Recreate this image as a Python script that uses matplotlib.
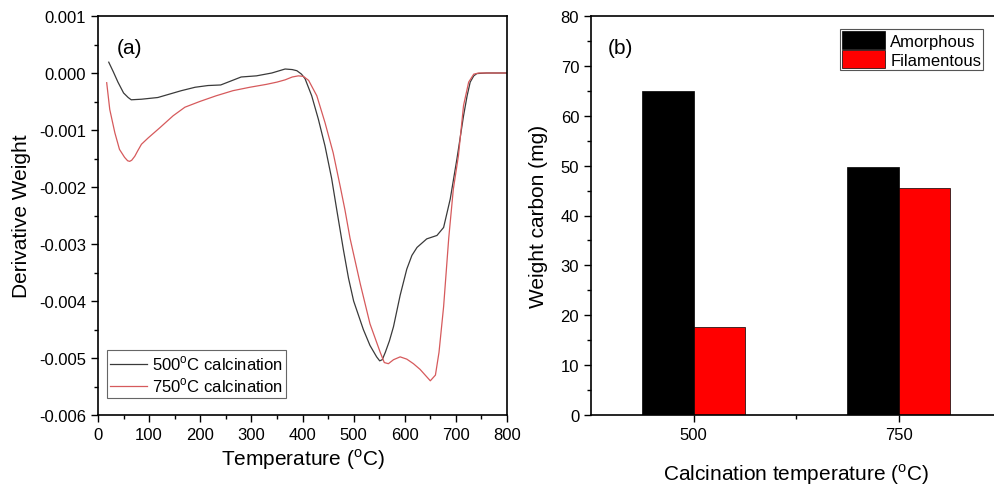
import matplotlib
matplotlib.use("Agg")
import matplotlib.pyplot as plt
from matplotlib.ticker import MultipleLocator, FuncFormatter

plt.rcParams['font.family'] = ['Liberation Sans', 'DejaVu Sans']
plt.rcParams['mathtext.fontset'] = 'custom'
plt.rcParams['mathtext.rm'] = 'Liberation Sans'

# ---- Panel (a) data: DTG curves ----
temp_500 = [21, 30, 39, 50, 59, 65, 85, 117, 140, 163, 190, 215, 240, 260, 280, 310, 340, 366, 380,
            389, 398, 405, 418, 431, 444, 457, 467, 480, 490, 500, 519, 532, 545, 551, 556, 562, 570,
            578, 591, 604, 614, 624, 643, 663, 676, 689, 702, 715, 722, 728, 735, 741, 760, 800]
dtg_500 = [0.00019, 0.00002, -0.00016, -0.00035, -0.00043, -0.00047, -0.00046, -0.00043, -0.00037,
           -0.00031, -0.00025, -0.00022, -0.00021, -0.00014, -0.00007, -0.00005, 0.00000, 0.00007,
           0.00006, 0.00004, -0.00002, -0.00010, -0.00040, -0.00081, -0.00128, -0.00185, -0.00240,
           -0.00310, -0.00360, -0.00400, -0.00450, -0.00478, -0.00498, -0.00505, -0.00503, -0.00490,
           -0.00470, -0.00445, -0.00390, -0.00344, -0.00320, -0.00306, -0.00291, -0.00285, -0.00271,
           -0.00221, -0.00151, -0.00075, -0.00040, -0.00016, -0.00005, -0.00001, 0.0, 0.0]

temp_750 = [17, 23, 33, 42, 52, 58, 62, 66, 72, 78, 85, 98, 121, 147, 170, 199, 231, 264, 297, 329,
            350, 366, 380, 392, 402, 412, 428, 444, 460, 474, 483, 493, 513, 532, 552, 560, 568, 578,
            591, 604, 617, 630, 640, 650, 660, 667, 676, 686, 695, 705, 715, 725, 735, 745, 800]
dtg_750 = [-0.00017, -0.00064, -0.00105, -0.00134, -0.00148, -0.00154, -0.00155, -0.00153, -0.00146,
           -0.00136, -0.00125, -0.00114, -0.00096, -0.00075, -0.00060, -0.00050, -0.00040, -0.00031,
           -0.00025, -0.00020, -0.00016, -0.00012, -0.00007, -0.00005, -0.00006, -0.00013, -0.00040,
           -0.00087, -0.00140, -0.00200, -0.00240, -0.00290, -0.00370, -0.00440, -0.00490, -0.00508,
           -0.00510, -0.00503, -0.00498, -0.00502, -0.00510, -0.00520, -0.00530, -0.00540, -0.00530,
           -0.00490, -0.00410, -0.00290, -0.00204, -0.00145, -0.00057, -0.00016, -0.00002, 0.0, 0.0]

# ---- Panel (b) data: bar chart ----
calc_temps = ['500', '750']
amorphous = [65.0, 49.8]
filamentous = [17.7, 45.6]

W, H = 994, 489
fig = plt.figure(figsize=(W / 100, H / 100), dpi=100)

def px_axes(l, t, r, b):
    return fig.add_axes([l / W, 1 - b / H, (r - l) / W, (b - t) / H])

# ---------- (a) ----------
ax1 = px_axes(98, 17, 507, 416)
ax1.plot(temp_500, dtg_500, color='#3a3a3a', lw=0.9, label='500$^{\\mathrm{o}}$C calcination')
ax1.plot(temp_750, dtg_750, color='#d65a5c', lw=0.9, label='750$^{\\mathrm{o}}$C calcination')
ax1.set_xlim(0, 800)
ax1.set_ylim(-0.006, 0.001)
ax1.xaxis.set_major_locator(MultipleLocator(100))
ax1.xaxis.set_minor_locator(MultipleLocator(50))
ax1.yaxis.set_major_locator(MultipleLocator(0.001))
ax1.yaxis.set_minor_locator(MultipleLocator(0.0005))
ax1.yaxis.set_major_formatter(FuncFormatter(lambda v, p: f"{v:.3f}" if abs(v) > 1e-12 else "0.000"))
ax1.set_xlabel('Temperature ($^{\\mathrm{o}}$C)', fontsize=15, labelpad=3)
ax1.set_ylabel('Derivative Weight', fontsize=15, labelpad=6)
ax1.text(0.045, 0.945, '(a)', transform=ax1.transAxes, fontsize=15, va='top', ha='left')
leg1 = ax1.legend(loc='lower left', bbox_to_anchor=(0.022, 0.043), fontsize=12, frameon=True,
                  fancybox=False, framealpha=1, edgecolor='#666666', handlelength=2.2,
                  borderpad=0.2, labelspacing=0.2, handletextpad=0.3, borderaxespad=0)
leg1.get_frame().set_linewidth(0.8)

# ---------- (b) ----------
ax2 = px_axes(591, 17, 1001, 416)
pos = [1, 2]
bw = 0.25
ax2.bar([p - bw / 2 for p in pos], amorphous, width=bw, color='black', edgecolor='black', lw=0.5, label='Amorphous')
ax2.bar([p + bw / 2 for p in pos], filamentous, width=bw, color='#ff0000', edgecolor='black', lw=0.5, label='Filamentous')
ax2.set_xlim(0.5, 2.5)
ax2.set_ylim(0, 80)
ax2.set_xticks(pos)
ax2.set_xticklabels(calc_temps)
ax2.set_xticks([1.5], minor=True)
ax2.yaxis.set_major_locator(MultipleLocator(10))
ax2.yaxis.set_minor_locator(MultipleLocator(5))
ax2.set_xlabel('Calcination temperature ($^{\\mathrm{o}}$C)', fontsize=15, labelpad=14)
ax2.set_ylabel('Weight carbon (mg)', fontsize=15, labelpad=9)
ax2.text(0.042, 0.945, '(b)', transform=ax2.transAxes, fontsize=15, va='top', ha='left')
leg2 = ax2.legend(loc='upper right', bbox_to_anchor=(0.956, 0.967), fontsize=12, frameon=True,
                  fancybox=False, framealpha=1, edgecolor='#555555', handlelength=2.6, handleheight=1.3,
                  borderpad=0.1, labelspacing=0.05, handletextpad=0.3, borderaxespad=0)
leg2.get_frame().set_linewidth(0.8)

for ax in (ax1, ax2):
    for s in ax.spines.values():
        s.set_linewidth(1.2)
    ax.tick_params(which='major', direction='out', length=5, width=1.0, labelsize=12, top=False, right=False)
    ax.tick_params(which='minor', direction='out', length=3, width=1.0, top=False, right=False)

fig.savefig('out.png', dpi=100)
